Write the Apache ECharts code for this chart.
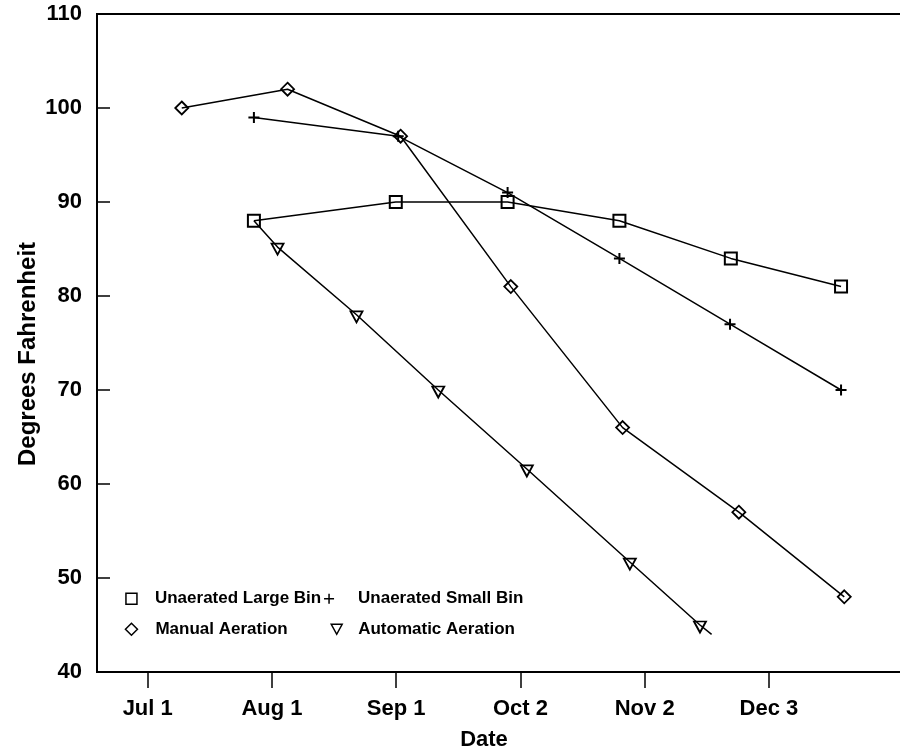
<!DOCTYPE html>
<html>
<head>
<meta charset="utf-8">
<script src="https://cdn.jsdelivr.net/npm/echarts@6/dist/echarts.min.js"></script>
<style>
  html, body { margin: 0; padding: 0; background: #fff; }
  #chart { width: 900px; height: 752px; }
</style>
</head>
<body>
<div id="chart"></div>
<script>
// X values are days after Jul 1
const tickDays = [0, 31, 62, 93, 124, 155];
const tickLabels = ['Jul 1', 'Aug 1', 'Sep 1', 'Oct 2', 'Nov 2', 'Dec 3'];

const seriesNames = ['Unaerated Large Bin', 'Unaerated Small Bin', 'Manual Aeration', 'Automatic Aeration'];

const largeBinDays  = [26.5, 61.9, 89.8, 117.7, 145.5, 173.0];
const largeBinTemps = [88, 90, 90, 88, 84, 81];

const smallBinDays  = [26.5, 62.5, 89.8, 117.7, 145.3, 173.0];
const smallBinTemps = [99, 97, 91, 84, 77, 70];

const manualDays  = [8.5, 34.9, 63.1, 90.6, 118.5, 147.5, 173.8];
const manualTemps = [100, 102, 97, 81, 66, 57, 48];

const autoDays  = [26.5, 32.4, 52.1, 72.5, 94.6, 120.3, 137.8, 140.7];
const autoTemps = [88, 85.2, 78, 70, 61.6, 51.7, 45, 44];
const autoMarkerShown = [false, true, true, true, true, true, true, false];

const FONT = '"Liberation Sans", Arial, Helvetica, sans-serif';
const PLUS = 'path://M5,0 L5,10 M0,5 L10,5';
const TRI_DOWN = 'path://M0,0 L12,0 L6,11 Z';

function pairs(xs, ys) { return xs.map((x, i) => [x, ys[i]]); }

const chart = echarts.init(document.getElementById('chart'), null, { renderer: 'canvas' });

const baseSeries = {
  type: 'line',
  lineStyle: { color: '#000', width: 1.5 },
  itemStyle: { color: 'rgba(0,0,0,0)', borderColor: '#000', borderWidth: 1.8 },
  emphasis: { disabled: true },
  animation: false,
  z: 3
};

const legendText = { fontFamily: FONT, fontWeight: 'bold', fontSize: 17, color: '#000', lineHeight: 20 };

function legendAt(name, icon, w, h, left, centerY, padLeft) {
  return {
    data: [{ name: name, icon: icon }],
    left: left, top: centerY - 9,
    padding: 0,
    itemWidth: w, itemHeight: h,
    selectedMode: false,
    itemStyle: { color: 'rgba(0,0,0,0)', borderColor: '#000', borderWidth: 1.5 },
    textStyle: Object.assign({ padding: [0, 0, 0, padLeft] }, legendText)
  };
}

const option = {
  backgroundColor: '#fff',
  animation: false,
  grid: {
    left: 97, top: 14, right: -20, bottom: 80,
    outerBoundsMode: 'none',
    containLabel: false,
    show: true, borderColor: '#000', borderWidth: 2, backgroundColor: 'rgba(0,0,0,0)'
  },
  legend: [
    legendAt(seriesNames[0], 'rect', 11, 11, 125.2, 597.7, 13),
    legendAt(seriesNames[1], PLUS, 10, 10, 323.3, 597.7, 19),
    legendAt(seriesNames[2], 'diamond', 12, 12, 124.7, 628.3, 13),
    legendAt(seriesNames[3], TRI_DOWN, 11, 10, 330.5, 628.3, 11)
  ],
  xAxis: {
    type: 'value',
    min: -12.65, max: 192.7,
    name: 'Date',
    nameLocation: 'middle',
    nameMoveOverlap: false,
    nameGap: 57,
    nameTextStyle: { fontFamily: FONT, fontWeight: 'bold', fontSize: 22, color: '#000', padding: [0, 49, 0, 0] },
    axisLine: { show: true, onZero: false, lineStyle: { color: '#000', width: 2 } },
    axisTick: { show: true, inside: false, length: 16, customValues: tickDays, lineStyle: { color: '#000', width: 1.5 } },
    axisLabel: {
      customValues: tickDays,
      margin: 26,
      fontFamily: FONT, fontWeight: 'bold', fontSize: 22, color: '#000',
      formatter: function (v) { const i = tickDays.indexOf(v); return i >= 0 ? tickLabels[i] : ''; }
    },
    splitLine: { show: false }
  },
  yAxis: {
    type: 'value',
    min: 40, max: 110, interval: 10,
    name: 'Degrees Fahrenheit',
    nameLocation: 'middle',
    nameMoveOverlap: false,
    nameGap: 57,
    nameTextStyle: { fontFamily: FONT, fontWeight: 'bold', fontSize: 24, color: '#000', padding: [0, 22, 0, 0] },
    axisLine: { show: true, onZero: false, lineStyle: { color: '#000', width: 2 } },
    axisTick: { show: true, inside: true, length: 13, lineStyle: { color: '#000', width: 1.5 } },
    axisLabel: { margin: 15, fontFamily: FONT, fontWeight: 'bold', fontSize: 22, color: '#000' },
    splitLine: { show: false }
  },
  series: [
    Object.assign({}, baseSeries, {
      name: seriesNames[0],
      symbol: 'rect', symbolSize: 12,
      itemStyle: { color: 'rgba(0,0,0,0)', borderColor: '#000', borderWidth: 2 },
      data: pairs(largeBinDays, largeBinTemps)
    }),
    Object.assign({}, baseSeries, {
      name: seriesNames[1],
      symbol: PLUS, symbolSize: 11,
      itemStyle: { color: 'rgba(0,0,0,0)', borderColor: '#000', borderWidth: 2 },
      data: pairs(smallBinDays, smallBinTemps)
    }),
    Object.assign({}, baseSeries, {
      name: seriesNames[2],
      symbol: 'diamond', symbolSize: 13,
      data: pairs(manualDays, manualTemps)
    }),
    Object.assign({}, baseSeries, {
      name: seriesNames[3],
      symbol: TRI_DOWN, symbolSize: [12, 11], symbolOffset: [0, 2],
      data: autoDays.map((x, i) => autoMarkerShown[i]
        ? { value: [x, autoTemps[i]] }
        : { value: [x, autoTemps[i]], symbol: 'none' })
    })
  ]
};

chart.setOption(option);
</script>
</body>
</html>
